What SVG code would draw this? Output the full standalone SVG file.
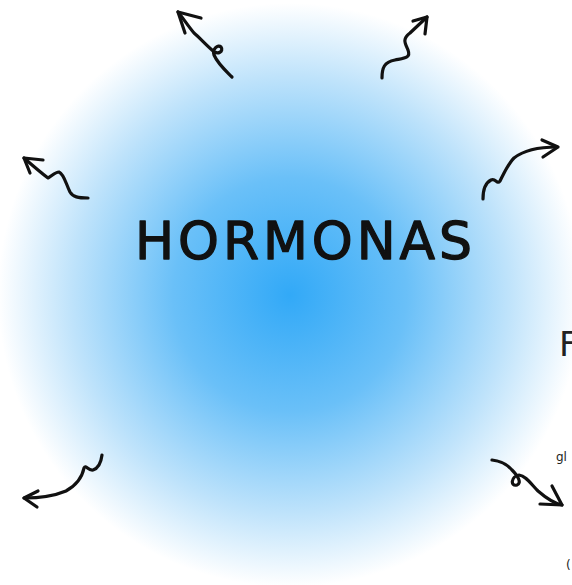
<svg xmlns="http://www.w3.org/2000/svg" width="572" height="585" viewBox="0 0 572 585">
<defs>
<radialGradient id="glow" cx="290" cy="295" r="292" gradientUnits="userSpaceOnUse">
<stop offset="0" stop-color="#32a9f7"/>
<stop offset="0.4" stop-color="#6ac0f8"/>
<stop offset="0.75" stop-color="#bfe3fb"/>
<stop offset="1" stop-color="#ffffff"/>
</radialGradient>
<style>
.sk{fill:none;stroke:#111;stroke-width:3.2;stroke-linecap:round;stroke-linejoin:round}
.title{font-family:"DejaVu Sans","Open Sans",sans-serif;font-size:52px;fill:#111;stroke:#111;stroke-width:1.3;stroke-linejoin:round}
.side{font-family:"DejaVu Sans","Open Sans",sans-serif;fill:#222}
</style>
</defs>
<rect width="572" height="585" fill="#ffffff"/>
<circle cx="290" cy="295" r="292" fill="url(#glow)"/>
<g id="title"><text class="title" x="135" y="259" textLength="337" lengthAdjust="spacing">HORMONAS</text></g>
<g id="connectors">
<g id="arrow-top-left">
<path class="sk" d="M232,77 C225,70 218,64 214,55 C212,49 218,44 221,47 C224,51 218,56 212,50 C205,44 200,38 194,33 C188,26 183,18 178,12"/>
<path class="sk" d="M201,18 L178,12 L185,33"/>
</g>
<g id="arrow-top-right">
<path class="sk" d="M382,78 C382,68 384,62 395,60 C405,58 411,58 408,50 C405,43 402,39 410,33 L427,17"/>
<path class="sk" d="M413,21 L427,17 L425,34"/>
</g>
<g id="arrow-left">
<path class="sk" d="M24,158 C32,165 40,172 48,178 C52,176 55,172 59,172 C64,174 66,184 70,192 C73,197 78,198 88,198"/>
<path class="sk" d="M43,160 L24,158 L30,173"/>
</g>
<g id="arrow-right-top">
<path class="sk" d="M483,199 C483,192 485,183 491,180 C496,178 497,185 500,181 C504,173 508,164 514,158 C524,150 538,147 557,147"/>
<path class="sk" d="M542,140 L558,147 L543,157"/>
</g>
<g id="arrow-bottom-left">
<path class="sk" d="M102,455 C101,463 99,468 93,470 C88,471 86,464 84,468 C82,478 75,486 66,491 C54,496 40,498 24,498"/>
<path class="sk" d="M38,491 L24,498 L37,507"/>
</g>
<g id="arrow-bottom-right">
<path class="sk" d="M492,460 C500,461 507,464 512,470 C518,476 522,483 517,485 C510,487 511,476 519,475 C526,476 531,484 538,491 C546,498 553,503 562,505"/>
<path class="sk" d="M540,504 L562,505 L552,486"/>
</g>
</g>
<g id="side-texts">
<text class="side" x="559" y="356" font-size="34">F</text>
<text class="side" x="556" y="461" font-size="12">gl</text>
<text class="side" x="566" y="569" font-size="12">(</text>
</g>
</svg>
